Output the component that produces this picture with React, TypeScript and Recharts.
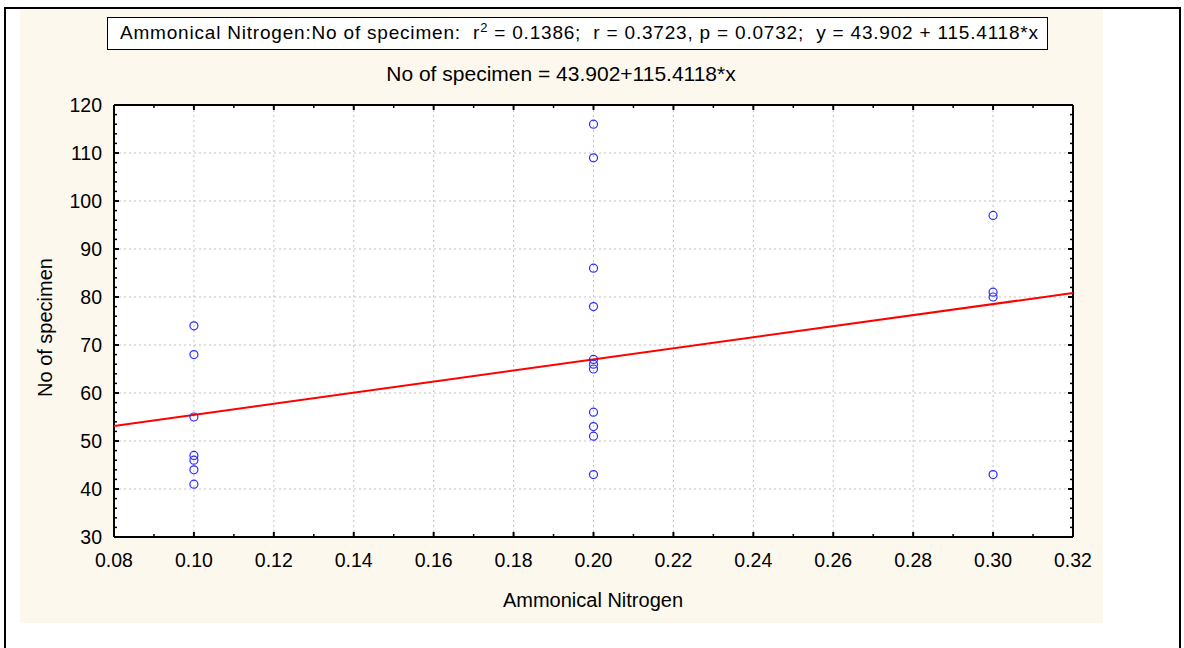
import React from 'react';
import { ScatterChart, Scatter, XAxis, YAxis, CartesianGrid } from 'recharts';

// values
const xLevels = [0.1, 0.2, 0.3];
const specimenAt010 = [74, 68, 55, 47, 46, 44, 41];
const specimenAt020 = [116, 109, 86, 78, 67, 66, 65, 56, 53, 51, 43];
const specimenAt030 = [97, 81, 80, 43];

const xTicks = [0.08, 0.1, 0.12, 0.14, 0.16, 0.18, 0.2, 0.22, 0.24, 0.26, 0.28, 0.3, 0.32];
const xMinorTicks = [0.09, 0.11, 0.13, 0.15, 0.17, 0.19, 0.21, 0.23, 0.25, 0.27, 0.29, 0.31];
const yTicks = [30, 40, 50, 60, 70, 80, 90, 100, 110, 120];
const yMinorTicks = [32, 34, 36, 38, 42, 44, 46, 48, 52, 54, 56, 58, 62, 64, 66, 68, 72, 74, 76, 78, 82, 84, 86, 88, 92, 94, 96, 98, 102, 104, 106, 108, 112, 114, 116, 118];

const intercept = 43.902;
const slope = 115.4118;

const points = [specimenAt010, specimenAt020, specimenAt030].flatMap((ys, i) =>
  ys.map(y => ({ x: xLevels[i], y }))
);
const xDomain: [number, number] = [0.08, 0.32];
const fitLine = xDomain.map(x => ({ x, y: intercept + slope * x }));

const allX = [...xTicks, ...xMinorTicks].sort((a, b) => a - b);
const allY = [...yTicks, ...yMinorTicks].sort((a, b) => a - b);

const FONT = '"Liberation Sans", Arial, sans-serif';
const TICK_FONT = 19.5;

const isMajor = (list: number[], v: number) => list.some(t => Math.abs(t - v) < 1e-9);

// with tickSize=0 and tickMargin=0 the tick x/y sits right on the frame
const BottomTick = (props: any) => {
  const { x, y, payload } = props;
  const major = isMajor(xTicks, payload.value);
  return (
    <g>
      <line x1={x} x2={x} y1={y} y2={y - (major ? 5 : 3)} stroke="#000" strokeWidth={major ? 2 : 1.5} />
      {major && (
        <text x={x} y={y + 30} textAnchor="middle" fontSize={TICK_FONT} fontFamily={FONT} fill="#000">
          {payload.value.toFixed(2)}
        </text>
      )}
    </g>
  );
};

const TopTick = (props: any) => {
  const { x, y, payload } = props;
  const major = isMajor(xTicks, payload.value);
  return <line x1={x} x2={x} y1={y} y2={y + (major ? 5 : 3)} stroke="#000" strokeWidth={major ? 2 : 1.5} />;
};

const LeftTick = (props: any) => {
  const { x, y, payload } = props;
  const major = isMajor(yTicks, payload.value);
  return (
    <g>
      <line x1={x} x2={x + (major ? 5 : 3)} y1={y} y2={y} stroke="#000" strokeWidth={major ? 2 : 1.5} />
      {major && (
        <text x={x - 12} y={y} dy="0.36em" textAnchor="end" fontSize={TICK_FONT} fontFamily={FONT} fill="#000">
          {payload.value}
        </text>
      )}
    </g>
  );
};

const RightTick = (props: any) => {
  const { x, y, payload } = props;
  const major = isMajor(yTicks, payload.value);
  return <line x1={x} x2={x - (major ? 5 : 3)} y1={y} y2={y} stroke="#000" strokeWidth={major ? 2 : 1.5} />;
};

const Circle = (props: any) => (
  <circle cx={props.cx} cy={props.cy} r={4} fill="none" stroke="#2a2aff" strokeWidth={1.2} />
);

const axisLine = { stroke: '#000', strokeWidth: 2 };

const App: React.FC = () => {
  return (
    <div style={{ position: 'absolute', left: 0, top: 0, width: 1184, height: 648, overflow: 'hidden', background: '#fff', fontFamily: FONT }}>
      <div style={{ position: 'absolute', left: 4, top: 7, width: 1177, height: 700, border: '2px solid #000', boxSizing: 'border-box' }} />
      <div style={{ position: 'absolute', left: 20, top: 9, width: 1083, height: 614, background: '#fdf8ee' }} />

      <div style={{ position: 'absolute', left: 107, top: 17, width: 941, height: 33, border: '1.5px solid #000', background: '#fff', boxSizing: 'border-box', fontSize: 19, letterSpacing: 0.8, lineHeight: '30px', paddingLeft: 12, whiteSpace: 'nowrap', color: '#000' }}>
        Ammonical Nitrogen:No of specimen:&nbsp; r<sup style={{ fontSize: 13, lineHeight: 0 }}>2</sup> = 0.1386;&nbsp; r = 0.3723, p = 0.0732;&nbsp; y = 43.902 + 115.4118*x
      </div>
      <div style={{ position: 'absolute', left: 261, top: 62, width: 600, textAlign: 'center', fontSize: 21, color: '#000', whiteSpace: 'nowrap' }}>
        No of specimen = 43.902+115.4118*x
      </div>
      <div style={{ position: 'absolute', left: 293, top: 589, width: 600, textAlign: 'center', fontSize: 20, color: '#000', whiteSpace: 'nowrap' }}>
        Ammonical Nitrogen
      </div>
      <div style={{ position: 'absolute', left: 45, top: 328, width: 0, height: 0 }}>
        <div style={{ position: 'absolute', left: -150, top: -12, width: 300, textAlign: 'center', transform: 'rotate(-90deg)', fontSize: 20, color: '#000', whiteSpace: 'nowrap' }}>
          No of specimen
        </div>
      </div>

      <div style={{ position: 'absolute', left: 0, top: 0 }}>
        <ScatterChart width={1184} height={648} margin={{ top: 95, right: 101, bottom: 71, left: 74 }}>
          <CartesianGrid
            fill="#fff"
            stroke="#c2c2c2"
            strokeDasharray="2 3"
            verticalValues={xTicks.slice(1, -1)}
            horizontalValues={yTicks.slice(1, -1)}
          />
          <XAxis
            xAxisId={0}
            type="number"
            dataKey="x"
            domain={xDomain}
            ticks={allX}
            interval={0}
            height={40}
            tickSize={0}
            tickMargin={0}
            tick={<BottomTick />}
            axisLine={axisLine}
            tickLine={false}
            allowDataOverflow
          />
          <XAxis
            xAxisId="top"
            orientation="top"
            type="number"
            dataKey="x"
            domain={xDomain}
            ticks={allX}
            interval={0}
            height={10}
            tickSize={0}
            tickMargin={0}
            tick={<TopTick />}
            axisLine={axisLine}
            tickLine={false}
            allowDataOverflow
          />
          <YAxis
            yAxisId={0}
            type="number"
            dataKey="y"
            domain={[30, 120]}
            ticks={allY}
            interval={0}
            width={40}
            tickSize={0}
            tickMargin={0}
            tick={<LeftTick />}
            axisLine={axisLine}
            tickLine={false}
            allowDataOverflow
          />
          <YAxis
            yAxisId="right"
            orientation="right"
            type="number"
            dataKey="y"
            domain={[30, 120]}
            ticks={allY}
            interval={0}
            width={10}
            tickSize={0}
            tickMargin={0}
            tick={<RightTick />}
            axisLine={axisLine}
            tickLine={false}
            allowDataOverflow
          />
          <Scatter
            data={fitLine}
            line={{ stroke: '#ff0000', strokeWidth: 2 }}
            shape={() => <g />}
            isAnimationActive={false}
          />
          <Scatter data={points} shape={<Circle />} isAnimationActive={false} />
        </ScatterChart>
      </div>
    </div>
  );
};

export default App;
